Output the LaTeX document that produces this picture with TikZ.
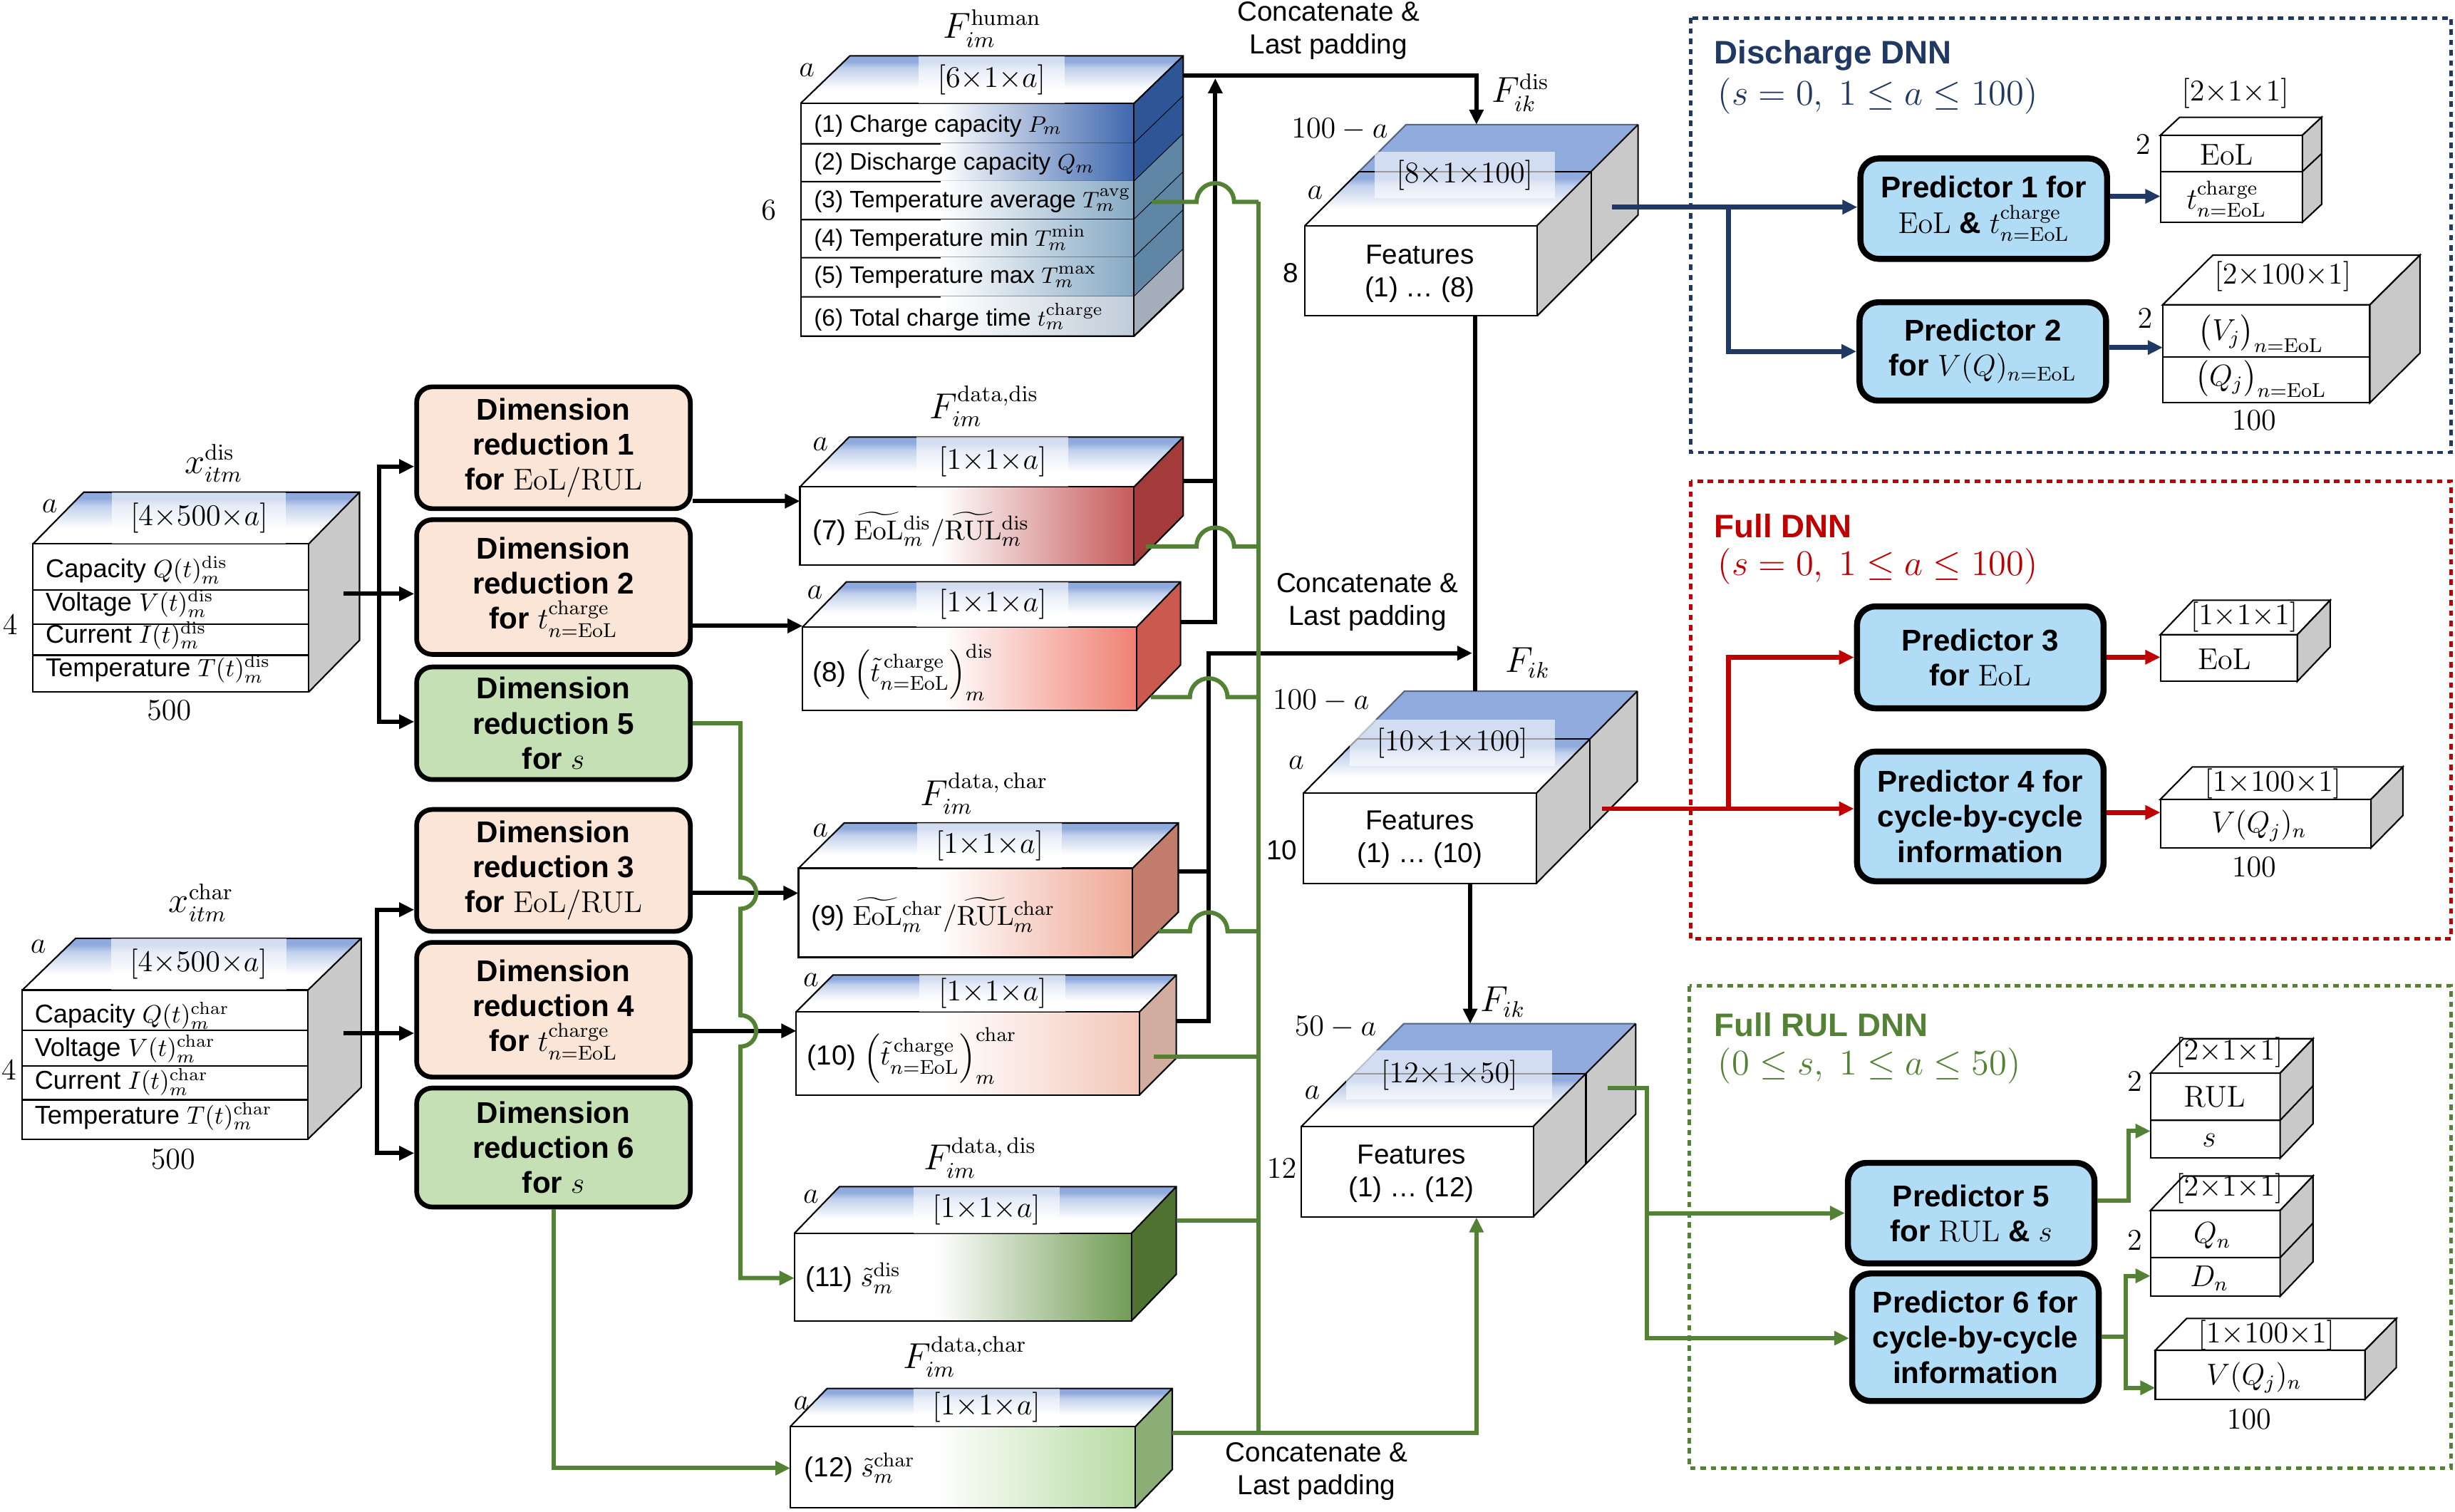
\documentclass[tikz,border=0pt]{standalone}
\usepackage{amsmath}
\usepackage[no-math]{fontspec}
\setmainfont{Liberation Sans}
\usetikzlibrary{arrows.meta}
\definecolor{topblue}{HTML}{8FAADC}
\colorlet{topmid}{topblue!55!white}
\colorlet{topedge}{topblue!60!black}
\definecolor{sidegray}{HTML}{C9C9C9}
\definecolor{drpeach}{HTML}{FBE5D6}
\definecolor{drgreen}{HTML}{C5E0B4}
\definecolor{predblue}{HTML}{B0DCF5}
\definecolor{dblue}{HTML}{1F3864}
\definecolor{dred}{HTML}{C00000}
\definecolor{dgreen}{HTML}{548235}
\definecolor{humA}{HTML}{3E67AE}\definecolor{humAs}{HTML}{2E5596}
\definecolor{humB}{HTML}{86A9C4}\definecolor{humBs}{HTML}{5F86A5}
\definecolor{humC}{HTML}{BFCCD9}\definecolor{humCs}{HTML}{A4AEBB}
\definecolor{redA}{HTML}{C65A5A}\definecolor{redAs}{HTML}{A33B3B}
\definecolor{redB}{HTML}{F08072}\definecolor{redBs}{HTML}{C95A4D}
\definecolor{redC}{HTML}{EFA794}\definecolor{redCs}{HTML}{C27C6C}
\definecolor{redD}{HTML}{F3C7B8}\definecolor{redDs}{HTML}{D2AC9F}
\definecolor{grA}{HTML}{719C55}\definecolor{grAs}{HTML}{4E7331}
\definecolor{grB}{HTML}{B6DBA2}\definecolor{grBs}{HTML}{8BAE76}
\pgfdeclareverticalshading{topfade}{100bp}{color(0bp)=(white); color(25bp)=(white); color(40bp)=(white); color(62bp)=(topmid); color(69bp)=(topblue); color(100bp)=(topblue)}
\newcommand\myrow{\fontsize{10.3}{12}\selectfont}
\newcommand\myhum{\fontsize{9.5}{11}\selectfont}
\newcommand\myblk{\fontsize{11}{13}\selectfont}
\newcommand\mydr{\fontsize{12}{14}\selectfont\bfseries}
\newcommand\mypred{\fontsize{12}{14}\selectfont\bfseries}
\newcommand\mylab{\fontsize{13.5}{15}\selectfont}
\newcommand\mysz{\fontsize{12}{14}\selectfont}
\newcommand\mycat{\fontsize{11}{13.2}\selectfont}
\newcommand\mytitle{\fontsize{13}{15}\selectfont\bfseries}
\newcommand\mynum{\fontsize{11}{13}\selectfont}
% colored feature block: x1 y1 x2 y2 dx dy frontcolour sidecolour gradstart
\newcommand{\fblock}[9]{%
  \fill[white] (#1,#2) rectangle (#3,#4);
  \shade[left color=white,right color=#7] ({#1+#9*(#3-#1)},#2) rectangle (#3,#4);
  \shade[shading=topfade] (#1,#2) -- ({#1+#5},{#2-#6}) -- ({#3+#5},{#2-#6}) -- (#3,#2) -- cycle;
  \fill[#8] (#3,#2) -- ({#3+#5},{#2-#6}) -- ({#3+#5},{#4-#6}) -- (#3,#4) -- cycle;
  \draw[edge] (#1,#2) rectangle (#3,#4);
  \draw[edge] (#1,#2) -- ({#1+#5},{#2-#6}) -- ({#3+#5},{#2-#6}) -- ({#3+#5},{#4-#6}) -- (#3,#4);
  \draw[edge] (#3,#2) -- ({#3+#5},{#2-#6});
}
% output box: x1 y1 x2 y2 dx dy
\newcommand{\obox}[6]{%
  \filldraw[edge,fill=white] (#1,#2) rectangle (#3,#4);
  \filldraw[edge,fill=white] (#1,#2) -- ({#1+#5},{#2-#6}) -- ({#3+#5},{#2-#6}) -- (#3,#2) -- cycle;
  \filldraw[edge,fill=sidegray] (#3,#2) -- ({#3+#5},{#2-#6}) -- ({#3+#5},{#4-#6}) -- (#3,#4) -- cycle;
}
% concatenated block: x1 y1 x2 y2 dx dy fraction
\newcommand{\cblock}[7]{%
  \pgfmathsetmacro\cbmx{#7*#5}\pgfmathsetmacro\cbmy{#7*#6}
  \shade[shading=topfade] (#1,#2) -- ({#1+\cbmx},{#2-\cbmy}) -- ({#3+\cbmx},{#2-\cbmy}) -- (#3,#2) -- cycle;
  \fill[topblue] ({#1+\cbmx},{#2-\cbmy}) -- ({#1+#5},{#2-#6}) -- ({#3+#5},{#2-#6}) -- ({#3+\cbmx},{#2-\cbmy}) -- cycle;
  \fill[sidegray] (#3,#2) -- ({#3+#5},{#2-#6}) -- ({#3+#5},{#4-#6}) -- (#3,#4) -- cycle;
  \filldraw[edge,fill=white] (#1,#2) rectangle (#3,#4);
  \draw[edge] (#1,#2) -- ({#1+\cbmx},{#2-\cbmy});
  \draw[edge,draw=topedge] ({#1+\cbmx},{#2-\cbmy}) -- ({#1+#5},{#2-#6}) -- ({#3+#5},{#2-#6});
  \draw[edge] ({#3+#5},{#2-#6}) -- ({#3+#5},{#4-#6}) -- (#3,#4);
  \draw[edge] (#3,#2) -- ({#3+#5},{#2-#6});
  \draw[edge] ({#1+\cbmx},{#2-\cbmy}) -- ({#3+\cbmx},{#2-\cbmy}) -- ({#3+\cbmx},{#4-\cbmy});
}
\begin{document}
\begin{tikzpicture}[x=0.2197mm,y=-0.2197mm,
  every node/.style={inner sep=0pt},
  edge/.style={line width=0.6pt},
  blkl/.style={line width=1.7pt},
  blk/.style={line width=1.7pt,-{Triangle[width=5.5pt,length=6pt]}},
  grl/.style={draw=dgreen,line width=1.7pt},
  gra/.style={draw=dgreen,line width=1.7pt,-{Triangle[width=5.5pt,length=6pt]}},
  bla/.style={draw=dblue,line width=1.9pt,-{Triangle[width=5.5pt,length=6pt]}},
  rea/.style={draw=dred,line width=1.9pt,-{Triangle[width=5.5pt,length=6pt]}},
  drbox/.style={draw,line width=1.9pt,rounded corners=2.2mm,align=center,font=\mydr,minimum width=38.4mm},
  predbox/.style={draw,line width=2.4pt,rounded corners=2.6mm,fill=predblue,align=center,font=\mypred,minimum width=34.6mm},
  band/.style={fill=white,fill opacity=0.6,text opacity=1,font=\mysz},
  frame/.style={line width=1.4pt,dash pattern=on 2.2pt off 1.9pt},
  ]
\useasboundingbox (0,0) rectangle (1568,965.4);

% ---------- dashed frames ----------
\draw[frame,draw=dblue] (1080,11.5) rectangle (1565.6,289);
\draw[frame,draw=dred] (1080,307.3) rectangle (1565.6,599.5);
\draw[frame,draw=dgreen] (1079,629.9) rectangle (1565.6,937.7);
\node[anchor=west,font=\mytitle,text=dblue] (t1) at (1094.7,35.3) {Discharge DNN};
\node[anchor=west,font=\mylab,text=dblue] (t1s) at (1097,61.3) {$(s=0,\ 1\leq a\leq 100)$};
\node[anchor=west,font=\mytitle,text=dred] (t2) at (1094.7,335.9) {Full DNN};
\node[anchor=west,font=\mylab,text=dred] (t2s) at (1097,361.6) {$(s=0,\ 1\leq a\leq 100)$};
\node[anchor=west,font=\mytitle,text=dgreen] (t3) at (1094.7,654.5) {Full RUL DNN};
\node[anchor=west,font=\mylab,text=dgreen] (t3s) at (1097,680.7) {$(0\leq s,\ 1\leq a\leq 50)$};

% ---------- input blocks ----------
\fblock{21.1}{347.4}{197.2}{442}{32.4}{33}{white}{sidegray}{0.5}
\foreach \yy in {377,398.7,418.5} \draw[edge] (21.1,\yy) -- (197.2,\yy);
\node[font=\mylab] (xdis) at (136.5,295.9) {$x_{itm}^{\mathrm{dis}}$};
\node[font=\mysz] (in1a) at (31.7,323.2) {$a$};
\node[band,minimum width=24.4mm,minimum height=7.2mm] (in1sz) at (127.2,330.9) {$[4{\times}500{\times}a]$};
\node[font=\myrow,anchor=west] (in1r1) at (28.9,364.1) {Capacity $Q(t)_m^{\mathrm{dis}}$};
\node[font=\myrow,anchor=west] (in1r2) at (28.9,385.6) {Voltage $V(t)_m^{\mathrm{dis}}$};
\node[font=\myrow,anchor=west] (in1r3) at (28.9,405.8) {Current $I(t)_m^{\mathrm{dis}}$};
\node[font=\myrow,anchor=west] (in1r4) at (28.9,427.3) {Temperature $T(t)_m^{\mathrm{dis}}$};
\node[font=\mysz] (in1d) at (6.5,399) {$4$};
\node[font=\mysz] (in1w) at (108,453.6) {$500$};

\fblock{14.3}{632.4}{196.7}{727.6}{34}{33}{white}{sidegray}{0.5}
\foreach \yy in {658.2,681,702.5} \draw[edge] (14.3,\yy) -- (196.7,\yy);
\node[font=\mylab] (xchar) at (128.4,576.6) {$x_{itm}^{\mathrm{char}}$};
\node[font=\mysz] (in2a) at (24.4,604.6) {$a$};
\node[band,minimum width=24.6mm,minimum height=7.2mm] (in2sz) at (126.8,615.9) {$[4{\times}500{\times}a]$};
\node[font=\myrow,anchor=west] (in2r1) at (21.9,648.7) {Capacity $Q(t)_m^{\mathrm{char}}$};
\node[font=\myrow,anchor=west] (in2r2) at (21.9,669.9) {Voltage $V(t)_m^{\mathrm{char}}$};
\node[font=\myrow,anchor=west] (in2r3) at (21.9,691.1) {Current $I(t)_m^{\mathrm{char}}$};
\node[font=\myrow,anchor=west] (in2r4) at (21.9,713.1) {Temperature $T(t)_m^{\mathrm{char}}$};
\node[font=\mysz] (in2d) at (5.7,683.6) {$4$};
\node[font=\mysz] (in2w) at (110.5,740.4) {$500$};

% ---------- human features block ----------
\fill[white] (511.4,66) rectangle (724.3,214.7);
\foreach \ya/\yb/\cf/\cs in {66/91.8/humA/humAs, 91.8/116/humA/humAs, 116/140.3/humB/humBs, 140.3/164.6/humB/humBs, 164.6/189.6/humB/humBs, 189.6/214.7/humC/humCs}{
  \shade[left color=white,right color=\cf] (600.8,\ya) rectangle (724.3,\yb);
  \fill[\cs] (724.3,\ya) -- (755.7,{\ya-30.3}) -- (755.7,{\yb-30.3}) -- (724.3,\yb) -- cycle;
  \draw[edge] (511.4,\yb) -- (724.3,\yb) -- (755.7,{\yb-30.3});
}
\shade[shading=topfade] (511.4,66) -- (542.8,35.7) -- (755.7,35.7) -- (724.3,66) -- cycle;
\draw[edge] (511.4,66) rectangle (724.3,214.7);
\draw[edge] (511.4,66) -- (542.8,35.7) -- (755.7,35.7) -- (755.7,184.4) -- (724.3,214.7);
\draw[edge] (724.3,66) -- (755.7,35.7);
\node[font=\mylab] (fhum) at (633.7,18.2) {$F_{im}^{\mathrm{human}}$};
\node[font=\mysz] (huma) at (515.3,44.8) {$a$};
\node[band,minimum width=20.5mm,minimum height=6.6mm] (humsz) at (633.3,50.9) {$[6{\times}1{\times}a]$};
\node[font=\mysz] (humd) at (491,134) {$6$};
\node[font=\myhum,anchor=west] (h1) at (519.6,80.4) {(1) Charge capacity $P_m$};
\node[font=\myhum,anchor=west] (h2) at (519.6,104.7) {(2) Discharge capacity $Q_m$};
\node[font=\myhum,anchor=west] (h3) at (519.6,128.2) {(3) Temperature average $T_m^{\mathrm{avg}}$};
\node[font=\myhum,anchor=west] (h4) at (519.6,152.2) {(4) Temperature min $T_m^{\mathrm{min}}$};
\node[font=\myhum,anchor=west] (h5) at (519.6,177.2) {(5) Temperature max $T_m^{\mathrm{max}}$};
\node[font=\myhum,anchor=west] (h6) at (519.6,202.5) {(6) Total charge time $t_m^{\mathrm{charge}}$};

% ---------- data features blocks ----------
\fblock{510.9}{311}{724.3}{361.1}{31.4}{31.8}{redA}{redAs}{0.42}
\fblock{512.6}{400.5}{726}{453.6}{28}{28.8}{redB}{redBs}{0.42}
\fblock{510}{554.6}{723.4}{611.5}{29.2}{28.9}{redC}{redCs}{0.42}
\fblock{508.6}{646.3}{727.8}{699.4}{23.5}{23.5}{redD}{redDs}{0.42}
\fblock{507.4}{787.8}{722.6}{843.8}{28.7}{29.8}{grA}{grAs}{0.42}
\fblock{504.8}{911.2}{725.2}{963}{23.5}{24.3}{grB}{grBs}{0.42}

\node[font=\mylab] (fdd) at (628.5,259.5) {$F_{im}^{\mathrm{data,dis}}$};
\node[font=\mysz] (b7a) at (524,283.7) {$a$};
\node[band,minimum width=21.3mm,minimum height=7mm] (b7sz) at (634,295.1) {$[1{\times}1{\times}a]$};
\node[font=\myblk,anchor=west] (b7t) at (518.7,338) {(7) $\widetilde{\mathrm{EoL}}{}_m^{\mathrm{dis}}/\widetilde{\mathrm{RUL}}{}_m^{\mathrm{dis}}$};
\node[font=\mysz] (b8a) at (520.5,378.5) {$a$};
\node[band,minimum width=21.3mm,minimum height=6.3mm] (b8sz) at (634,386.1) {$[1{\times}1{\times}a]$};
\node[font=\myblk,anchor=west] (b8t) at (518.7,429.4) {(8) $\left(\tilde{t}^{\,\mathrm{charge}}_{n=\mathrm{EoL}}\right)^{\mathrm{dis}}_m$};

\node[font=\mylab] (fdc) at (628.5,506.8) {$F_{im}^{\mathrm{data,\,char}}$};
\node[font=\mysz] (b9a) at (524,530.3) {$a$};
\node[band,minimum width=20.3mm,minimum height=6.3mm] (b9sz) at (632,540.2) {$[1{\times}1{\times}a]$};
\node[font=\myblk,anchor=west] (b9t) at (517.9,584.5) {(9) $\widetilde{\mathrm{EoL}}{}_m^{\mathrm{char}}/\widetilde{\mathrm{RUL}}{}_m^{\mathrm{char}}$};
\node[font=\mysz] (b10a) at (517.9,625.9) {$a$};
\node[band,minimum width=20.5mm,minimum height=5.2mm] (b10sz) at (634,634.6) {$[1{\times}1{\times}a]$};
\node[font=\myblk,anchor=west] (b10t) at (515.3,674.5) {(10) $\left(\tilde{t}^{\,\mathrm{charge}}_{n=\mathrm{EoL}}\right)^{\mathrm{char}}_m$};

\node[font=\mylab] (fsd) at (625.9,739.6) {$F_{im}^{\mathrm{data,\,dis}}$};
\node[font=\mysz] (b11a) at (517.9,764.6) {$a$};
\node[band,minimum width=20.5mm,minimum height=6.5mm] (b11sz) at (630,772.9) {$[1{\times}1{\times}a]$};
\node[font=\myblk,anchor=west] (b11t) at (514.4,816.4) {(11) $\tilde{s}_m^{\mathrm{dis}}$};
\node[font=\mylab] (fsc) at (616.3,866.5) {$F_{im}^{\mathrm{data,char}}$};
\node[font=\mysz] (b12a) at (511.8,896.3) {$a$};
\node[band,minimum width=20.5mm,minimum height=5.3mm] (b12sz) at (630,899) {$[1{\times}1{\times}a]$};
\node[font=\myblk,anchor=west] (b12t) at (513.5,937.8) {(12) $\tilde{s}_m^{\mathrm{char}}$};

% ---------- concatenated blocks ----------
\cblock{833.5}{144.1}{981.7}{201.8}{64.5}{64.5}{0.536}
\cblock{832.5}{506.7}{981.2}{564.3}{64.5}{65.2}{0.53}
\cblock{831.2}{719.5}{979.3}{777.2}{65.4}{65.6}{0.514}
\node[band,minimum width=25.3mm,minimum height=6.5mm] (c1sz) at (935.5,111.9) {$[8{\times}1{\times}100]$};
\node[band,minimum width=28.8mm,minimum height=6.5mm] (c2sz) at (927.5,474.5) {$[10{\times}1{\times}100]$};
\node[band,minimum width=28.9mm,minimum height=6.9mm] (c3sz) at (925.7,686.7) {$[12{\times}1{\times}50]$};
\node[font=\mycat,align=center] (c1t) at (906.8,174.8) {Features\\(1) … (8)};
\node[font=\mycat,align=center] (c2t) at (906.8,536.3) {Features\\(1) … (10)};
\node[font=\mycat,align=center] (c3t) at (901.5,749.6) {Features\\(1) … (12)};
\node[font=\mynum] (c1d) at (824.5,174.5) {8};
\node[font=\mynum] (c2d) at (818.6,543.1) {10};
\node[font=\mysz] (c3d) at (818.6,746.4) {$12$};
\node[font=\mysz] (c1p) at (855.7,82.7) {$100-a$};
\node[font=\mysz] (c2p) at (843.7,447.5) {$100-a$};
\node[font=\mysz] (c3p) at (853,656.1) {$50-a$};
\node[font=\mysz] (c1a) at (840,122.9) {$a$};
\node[font=\mysz] (c2a) at (827.9,487) {$a$};
\node[font=\mysz] (c3a) at (838.1,698) {$a$};
\node[font=\mylab] (fik1) at (971,59.2) {$F_{ik}^{\mathrm{dis}}$};
\node[font=\mylab] (fik2) at (975.6,423.3) {$F_{ik}$};
\node[font=\mylab] (fik3) at (959.8,639.9) {$F_{ik}$};
\node[font=\mycat,align=center] (cc1) at (848.5,19.7) {Concatenate \&\\Last padding};
\node[font=\mycat,align=center] (cc2) at (873.4,384.6) {Concatenate \&\\Last padding};
\node[font=\mycat,align=center] (cc3) at (840.9,940) {Concatenate \&\\Last padding};

% ---------- dimension reduction boxes ----------
\node[drbox,fill=drpeach,minimum height=17.1mm] (dr1) at (353.5,286) {Dimension\\reduction 1\\for $\mathrm{EoL/RUL}$};
\node[drbox,fill=drpeach,minimum height=18.9mm] (dr2) at (353.5,375) {Dimension\\reduction 2\\for $t^{\mathrm{charge}}_{n=\mathrm{EoL}}$};
\node[drbox,fill=drgreen,minimum height=15.8mm] (dr5) at (353.5,462) {Dimension\\reduction 5\\for $s$};
\node[drbox,fill=drpeach,minimum height=17.1mm] (dr3) at (353.5,556) {Dimension\\reduction 3\\for $\mathrm{EoL/RUL}$};
\node[drbox,fill=drpeach,minimum height=18.9mm] (dr4) at (353.5,645) {Dimension\\reduction 4\\for $t^{\mathrm{charge}}_{n=\mathrm{EoL}}$};
\node[drbox,fill=drgreen,minimum height=16.7mm] (dr6) at (353.5,733) {Dimension\\reduction 6\\for $s$};

% ---------- predictors ----------
\node[predbox,minimum height=14.1mm] (p1) at (1267,133.3) {Predictor 1 for\\$\mathrm{EoL}$ \& $t^{\mathrm{charge}}_{n=\mathrm{EoL}}$};
\node[predbox,minimum height=13.8mm] (p2) at (1266.4,224.5) {Predictor 2\\for $V(Q)_{n=\mathrm{EoL}}$};
\node[predbox,minimum height=14.3mm] (p3) at (1264.8,419.9) {Predictor 3\\for $\mathrm{EoL}$};
\node[predbox,minimum height=18.2mm] (p4) at (1264.8,521.5) {Predictor 4 for\\cycle-by-cycle\\information};
\node[predbox,minimum height=14.1mm] (p5) at (1259,774.9) {Predictor 5\\for $\mathrm{RUL}$ \& $s$};
\node[predbox,minimum height=17.9mm] (p6) at (1261.7,854.2) {Predictor 6 for\\cycle-by-cycle\\information};

% ---------- output boxes ----------
\obox{1379.8}{86.4}{1470.5}{142}{12.3}{11.5}
\draw[edge] (1379.8,109.6) -- (1470.5,109.6) -- ++(12.3,-11.5);
\node[font=\mysz] (d1sz) at (1427.6,59.5) {$[2{\times}1{\times}1]$};
\node[font=\mysz] (d1d) at (1368.7,92.3) {$2$};
\node[font=\mysz] (d1r1) at (1422,99) {$\mathrm{EoL}$};
\node[font=\mysz] (d1r2) at (1422,127) {$t^{\mathrm{charge}}_{n=\mathrm{EoL}}$};

\obox{1381.3}{194.7}{1513.6}{257.3}{32}{31.7}
\draw[edge] (1381.3,228) -- (1513.6,228);
\node[font=\mysz] (d2sz) at (1458,176.5) {$[2{\times}100{\times}1]$};
\node[font=\mysz] (d2d) at (1370,203.5) {$2$};
\node[font=\mysz] (d2r1) at (1444,213) {$\big(V_j\big)_{n=\mathrm{EoL}}$};
\node[font=\mysz] (d2r2) at (1444,242) {$\big(Q_j\big)_{n=\mathrm{EoL}}$};
\node[font=\mysz] (d2w) at (1439.6,268.5) {$100$};

\obox{1379.8}{405.4}{1467.3}{435.2}{21}{22}
\node[font=\mysz] (f1sz) at (1433.3,394.2) {$[1{\times}1{\times}1]$};
\node[font=\mysz] (f1r) at (1420.7,421.2) {$\mathrm{EoL}$};

\obox{1379.8}{510.6}{1514.3}{541.6}{20.4}{20.7}
\node[font=\mysz] (f2sz) at (1451.6,500.8) {$[1{\times}100{\times}1]$};
\node[font=\mysz] (f2r) at (1442.8,527.4) {$V(Q_j)_n$};
\node[font=\mysz] (f2w) at (1439.6,554) {$100$};

\obox{1373.5}{685.5}{1456.3}{739.8}{21}{22}
\draw[edge] (1373.5,715.6) -- (1456.3,715.6) -- ++(21,-22);
\node[font=\mysz] (r1sz) at (1423.9,672.3) {$[2{\times}1{\times}1]$};
\node[font=\mysz] (r1d) at (1363.4,691) {$2$};
\node[font=\mysz] (r1r1) at (1414.4,700.5) {$\mathrm{RUL}$};
\node[font=\mysz] (r1r2) at (1411,728.5) {$s$};

\obox{1373.5}{773.2}{1456.3}{828}{21}{22}
\draw[edge] (1373.5,803.3) -- (1456.3,803.3) -- ++(21,-22);
\node[font=\mysz] (r2sz) at (1423.9,759) {$[2{\times}1{\times}1]$};
\node[font=\mysz] (r2d) at (1363.4,792.5) {$2$};
\node[font=\mysz] (r2r1) at (1413,789.5) {$Q_n$};
\node[font=\mysz] (r2r2) at (1411,816.5) {$D_n$};

\obox{1376.6}{862.5}{1510.5}{893.8}{20}{20.3}
\node[font=\mysz] (r3sz) at (1447.5,853) {$[1{\times}100{\times}1]$};
\node[font=\mysz] (r3r) at (1439.6,880) {$V(Q_j)_n$};
\node[font=\mysz] (r3w) at (1436.4,906.4) {$100$};

% ---------- coordinates for connectors ----------
\coordinate (in1o) at (219.5,379.3);
\coordinate (bus1m) at (242,379.3);
\coordinate (bus1t) at (242,298);
\coordinate (bus1b) at (242,461);
\coordinate (in2o) at (219.5,660);
\coordinate (bus2m) at (240.6,660);
\coordinate (bus2t) at (240.6,581.1);
\coordinate (bus2b) at (240.6,736.6);
\coordinate (b7in) at (510.9,320.1);
\coordinate (b8in) at (512.6,399.8);
\coordinate (b9in) at (510,570.5);
\coordinate (b10in) at (508.6,658.5);
\coordinate (b11in) at (507.4,816.4);
\coordinate (b12in) at (504.8,937.8);
\coordinate (g5a) at (473,462);
\coordinate (humo) at (755.7,48.2);
\coordinate (c1in) at (943,79.6);
\coordinate (b7o) at (755.7,307.2);
\coordinate (j7) at (776.2,307.2);
\coordinate (b8o) at (753.9,397.5);
\coordinate (jtop) at (776.2,50);
\coordinate (b9o) at (753,556.8);
\coordinate (j9) at (772,556.8);
\coordinate (b10o) at (751.3,652.4);
\coordinate (jm) at (772,417.2);
\coordinate (c2arr) at (940.3,417.2);
\coordinate (c1bot) at (942,201.8);
\coordinate (c2top) at (942,441.5);
\coordinate (c2bot) at (939,564.3);
\coordinate (c3top) at (939,653.9);
\coordinate (hg) at (735.6,129);
\coordinate (gtop) at (803.7,129);
\coordinate (gbot) at (803.7,915.3);
\coordinate (c3in) at (943,777.6);
\coordinate (b7g) at (732,349);
\coordinate (b8g) at (735,445.3);
\coordinate (b9g) at (740,594.8);
\coordinate (b10g) at (737,675.2);
\coordinate (b11g) at (751.3,779.5);
\coordinate (b12g) at (748.7,915.3);
\coordinate (c1o) at (1029.5,132.3);
\coordinate (bj) at (1104.1,132.3);
\coordinate (c2o) at (1023,516.6);
\coordinate (rj) at (1104.1,516.6);
\coordinate (c3o) at (1026.7,695.2);
\coordinate (gj6) at (1051.8,854.8);
\coordinate (gj5) at (1051.8,774.9);
\coordinate (d1in) at (1379.8,125.4);
\coordinate (d2in) at (1381.3,222);
\coordinate (f1in) at (1379.8,419.8);
\coordinate (f2in) at (1379.8,519);
\coordinate (p5j) at (1359.3,767);
\coordinate (r1in) at (1373.5,722.5);
\coordinate (p6j) at (1357.7,854);
\coordinate (r2in) at (1373.5,815);
\coordinate (r3in) at (1376.6,886.5);

% ---------- black connectors ----------
\draw[blk] (in1o) -- (dr2.west |- in1o);
\draw[blk] (bus1m) |- (dr1.west |- bus1t);
\draw[blk] (bus1m) |- (dr5.west |- bus1b);
\draw[blk] (in2o) -- (dr4.west |- in2o);
\draw[blk] (bus2m) |- (dr3.west |- bus2t);
\draw[blk] (bus2m) |- (dr6.west |- bus2b);
\draw[blk] (dr1.east |- b7in) -- (b7in);
\draw[blk] (dr2.east |- b8in) -- (b8in);
\draw[blk] (dr3.east |- b9in) -- (b9in);
\draw[blk] (dr4.east |- b10in) -- (b10in);
\draw[blk] (humo) -| (c1in);
\draw[blkl] (b7o) -- (j7);
\draw[blk] (b8o) -| (jtop);
\draw[blkl] (b9o) -- (j9);
\draw[blk] (b10o) -| (jm) -- (c2arr);
\draw[blkl] (c1bot) -- (c2top);
\draw[blk] (c2bot) -- (c3top);

% ---------- green connectors ----------
\draw[gra] (dr5.east) -- (g5a) -- (473,560.5) arc[start angle=270,end angle=450,radius=10] -- (473,648.5) arc[start angle=270,end angle=450,radius=10] |- (b11in);
\draw[gra] (dr6.south) |- (b12in);
\draw[grl] (hg) -- ++(28.6,0) arc[start angle=180,end angle=360,radius=12] -- (gtop);
\draw[grl] (b7g) -- ++(32.2,0) arc[start angle=180,end angle=360,radius=12] -- (gtop |- b7g);
\draw[grl] (b8g) -- ++(25,0) arc[start angle=180,end angle=360,radius=12] -- (gtop |- b8g);
\draw[grl] (b9g) -- ++(20,0) arc[start angle=180,end angle=360,radius=12] -- (gtop |- b9g);
\draw[grl] (b10g) -- (gtop |- b10g);
\draw[grl] (b11g) -- (gtop |- b11g);
\draw[grl] (b12g) -- (gbot);
\draw[gra] (gtop) -- (gbot) -| (c3in);

% ---------- right side connectors ----------
\draw[bla] (c1o) -- (p1.west |- c1o);
\draw[bla] (bj) |- (p2.west);
\draw[rea] (c2o) -- (p4.west |- c2o);
\draw[rea] (rj) |- (p3.west);
\draw[gra] (c3o) -| (gj6) -- (p6.west |- gj6);
\draw[gra] (gj5) -- (p5.west |- gj5);
\draw[bla] (p1.east |- d1in) -- (d1in);
\draw[bla] (p2.east |- d2in) -- (d2in);
\draw[rea] (p3.east |- f1in) -- (f1in);
\draw[rea] (p4.east |- f2in) -- (f2in);
\draw[gra] (p5.east |- p5j) -- (p5j) |- (r1in);
\draw[grl] (p6.east |- p6j) -- (p6j);
\draw[gra] (p6j) |- (r2in);
\draw[gra] (p6j) |- (r3in);
\end{tikzpicture}
\end{document}
